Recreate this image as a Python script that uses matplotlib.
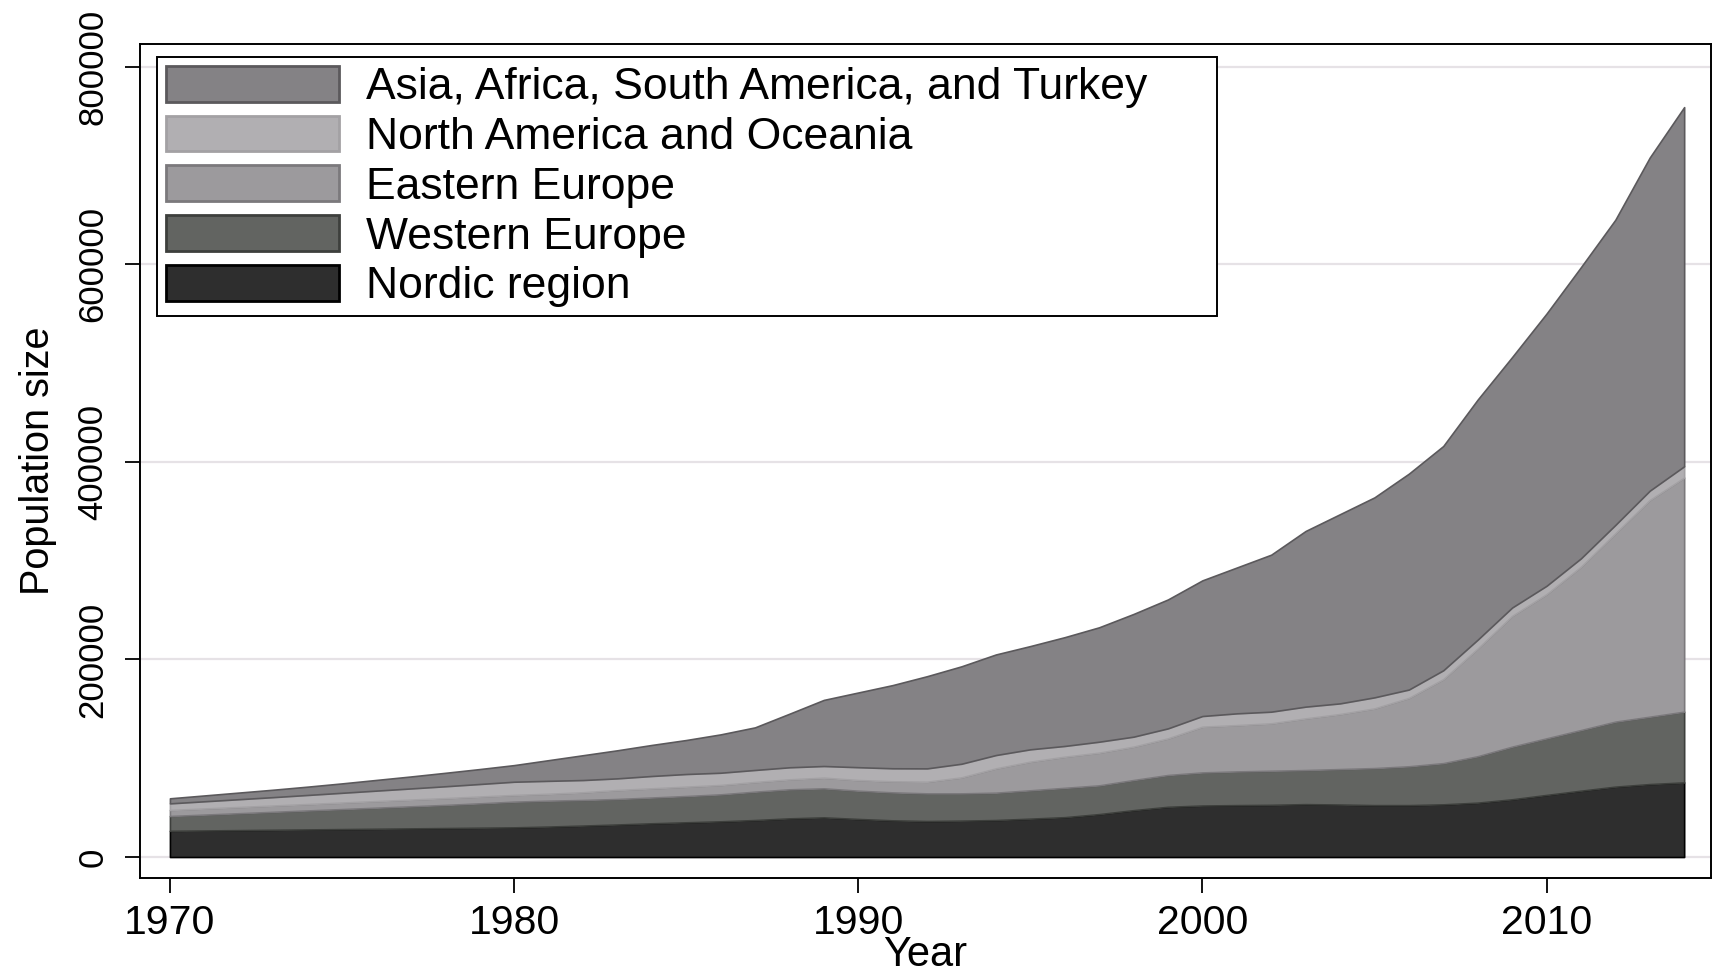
import matplotlib
matplotlib.use("Agg")
import matplotlib.pyplot as plt
from matplotlib.patches import Patch

# Foreign-born population by region of origin, 1970-2014
years = list(range(1970, 2015))

nordic = [26500, 26850, 27200, 27550, 27900, 28250, 28600, 28950, 29300, 29650,
          30000, 30800, 31800, 32900, 34100, 35100, 36100, 37400, 39100, 40100,
          38500, 37100, 36400, 36800, 37400, 38800, 40300, 43400, 47400, 50800,
          52100, 52500, 52800, 53500, 53100, 52500, 52500, 53300, 55000, 58400,
          62800, 67100, 71200, 73800, 75500]

western_europe = [15000, 16050, 17100, 18150, 19200, 20250, 21300, 22350, 23400, 24650,
                  26000, 26200, 25900, 25800, 26100, 26600, 27300, 28700, 29400, 29400,
                  28600, 28300, 28000, 27600, 27700, 28700, 29700, 29100, 30500, 32200,
                  33500, 34100, 34500, 34500, 35900, 37500, 39300, 41700, 47000, 53300,
                  57300, 61400, 65800, 68200, 71600]

eastern_europe = [6100, 6200, 6300, 6400, 6500, 6600, 6700, 6800, 6900, 6900,
                  6800, 7000, 7800, 9100, 9300, 9500, 9500, 9800, 10100, 10800,
                  10800, 11200, 11800, 16200, 24600, 29000, 31500, 33100, 33800, 37100,
                  46300, 46900, 48000, 52300, 55700, 60400, 69200, 85000, 109000, 132300,
                  145900, 165300, 190600, 219300, 236900]

north_america_oceania = [6700, 7300, 7900, 8500, 9200, 9900, 10600, 11300, 12000, 12700,
                         13400, 13100, 12400, 11800, 12500, 12800, 12400, 12200, 12200, 11800,
                         13000, 13200, 13500, 13800, 13500, 12500, 10900, 11100, 10100, 10100,
                         10800, 11900, 11800, 11900, 10800, 11200, 8500, 9000, 9000, 8500,
                         8500, 8500, 8500, 9500, 11500]

asia_africa_sa_turkey = [5100, 5900, 6700, 7500, 8400, 9500, 10800, 12100, 13600, 15100,
                         16800, 20900, 25100, 28400, 31400, 34400, 38800, 43100, 54200, 66900,
                         75600, 84200, 93300, 98600, 101800, 104500, 110100, 115800, 124200, 130500,
                         137300, 147600, 158900, 177800, 191500, 202400, 218500, 227000, 243000, 253500,
                         275500, 294700, 308900, 337200, 363500]

series_labels = ["Nordic region", "Western Europe", "Eastern Europe",
                 "North America and Oceania", "Asia, Africa, South America, and Turkey"]
fill_colors = ["#2e2e2e", "#626461", "#9c9a9d", "#b1afb2", "#848285"]
edge_colors = ["#000000", "#3d3f3c", "#7b797c", "#a3a1a4", "#5b595c"]

x_ticks = [1970, 1980, 1990, 2000, 2010]
y_ticks = [0, 200000, 400000, 600000, 800000]
y_tick_labels = ["0", "200000", "400000", "600000", "800000"]

plt.rcParams["font.family"] = ["Liberation Sans", "DejaVu Sans"]

fig = plt.figure(figsize=(17.19, 9.77), dpi=100)
ax = fig.add_axes([0.08144, 0.10133, 0.91391, 0.85363])

ax.set_axisbelow(True)
ax.yaxis.grid(True, color="#e6e2e6", linewidth=1.6)
ax.xaxis.grid(False)

polys = ax.stackplot(years, nordic, western_europe, eastern_europe,
                     north_america_oceania, asia_africa_sa_turkey,
                     colors=fill_colors)
for poly, ec in zip(polys, edge_colors):
    poly.set_edgecolor(ec)
    poly.set_linewidth(1.2)

ax.set_xlim(1969.13, 2014.78)
ax.set_ylim(-21250, 822900)

ax.set_xticks(x_ticks)
ax.set_xticklabels([str(t) for t in x_ticks], fontsize=29.5)
ax.set_yticks(y_ticks)
ax.set_yticklabels(y_tick_labels, rotation=90, va="center", fontsize=25)

ax.tick_params(axis="both", direction="out", length=11, width=1.3, color="black")
ax.tick_params(axis="x", pad=8)
ax.tick_params(axis="y", pad=11)

for side in ["left", "right", "top", "bottom"]:
    ax.spines[side].set_linewidth(1.4)
    ax.spines[side].set_color("black")

ax.set_xlabel("Year", fontsize=30, labelpad=-5)
ax.set_ylabel("Population size", fontsize=28.5, labelpad=14)

handles = [Patch(facecolor=fc, edgecolor=ec, linewidth=2.0)
           for fc, ec in zip(fill_colors, edge_colors)][::-1]
legend = ax.legend(handles, series_labels[::-1],
                   loc="upper left", bbox_to_anchor=(0.01082, 0.0, 0.67478, 0.98441),
                   mode="expand", fontsize=32, frameon=True, fancybox=False,
                   edgecolor="black", framealpha=1.0,
                   handlelength=3.9, handleheight=0.86, handletextpad=0.6,
                   labelspacing=0.17, borderpad=0.2, borderaxespad=0.0)
legend.get_frame().set_linewidth(1.4)

fig.savefig("out.png", dpi=100, facecolor="white")
